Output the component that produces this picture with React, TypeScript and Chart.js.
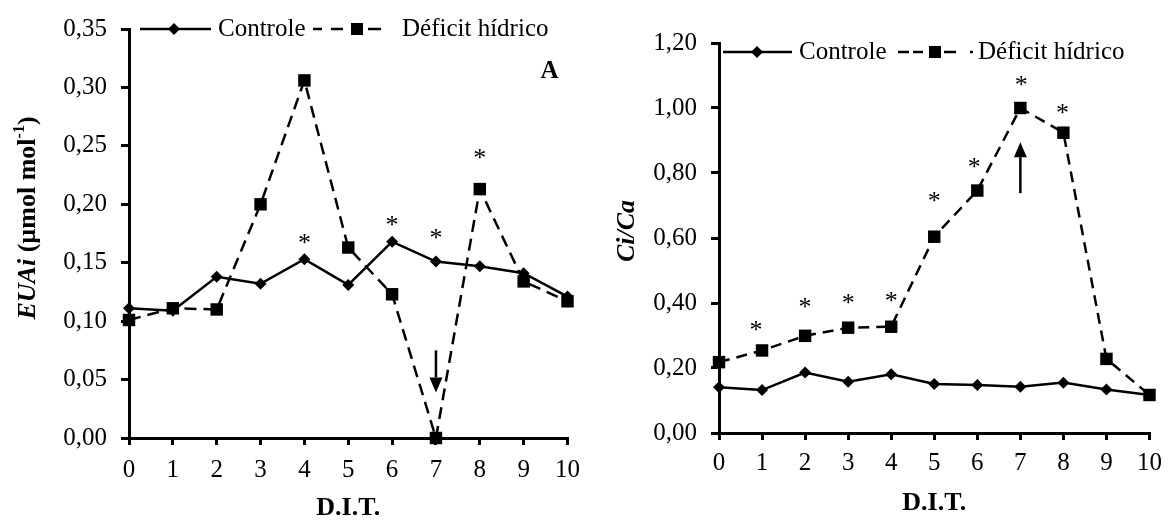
import React, { useEffect, useRef } from 'react';
import { Chart, registerables } from 'chart.js';

Chart.register(...registerables);

const FAM = "'Liberation Serif', 'Times New Roman', serif";

// Days after treatment (D.I.T.)
const days = [0, 1, 2, 3, 4, 5, 6, 7, 8, 9, 10];

// Panel A: EUAi (µmol mol-1)
const euaiControle = [0.111, 0.109, 0.138, 0.132, 0.153, 0.131, 0.168, 0.151, 0.147, 0.141, 0.121];
const euaiDeficit = [0.101, 0.111, 0.110, 0.200, 0.306, 0.163, 0.123, 0.0, 0.213, 0.134, 0.117];
const euaiTicks = [0, 0.05, 0.1, 0.15, 0.2, 0.25, 0.3, 0.35];
const euaiStarsX = [4, 6, 7, 8];
const euaiStarsY = [0.17, 0.186, 0.175, 0.243];
const euaiArrow = [7, 0.075, 0.039]; // x, tail, tip

// Panel B: Ci/Ca
const cicaControle = [0.141, 0.132, 0.186, 0.158, 0.181, 0.151, 0.148, 0.142, 0.155, 0.134, 0.117];
const cicaDeficit = [0.218, 0.254, 0.299, 0.324, 0.327, 0.604, 0.746, 1.0, 0.924, 0.228, 0.117];
const cicaTicks = [0, 0.2, 0.4, 0.6, 0.8, 1.0, 1.2];
const cicaStarsX = [0.86, 2, 3, 4, 5, 5.93, 7.02, 7.98];
const cicaStarsY = [0.329, 0.399, 0.411, 0.419, 0.727, 0.83, 1.082, 0.996];
const cicaArrow = [7, 0.738, 0.895];

const fmt = (v: number) => v.toFixed(2).replace('.', ',');

function drawDiamond(ctx: CanvasRenderingContext2D, x: number, y: number, r: number) {
  ctx.beginPath();
  ctx.moveTo(x - r, y);
  ctx.lineTo(x, y - r);
  ctx.lineTo(x + r, y);
  ctx.lineTo(x, y + r);
  ctx.closePath();
  ctx.fill();
}

function drawStar(ctx: CanvasRenderingContext2D, x: number, y: number) {
  ctx.font = `26px ${FAM}`;
  ctx.textAlign = 'center';
  ctx.textBaseline = 'alphabetic';
  const m = ctx.measureText('*');
  ctx.fillText('*', x, y + (m.actualBoundingBoxAscent - m.actualBoundingBoxDescent) / 2);
}

function drawArrow(ctx: CanvasRenderingContext2D, x: number, y0: number, y1: number) {
  const dir = Math.sign(y1 - y0);
  const headLen = 15;
  const headW = 6.5;
  ctx.lineWidth = 2.5;
  ctx.setLineDash([]);
  ctx.beginPath();
  ctx.moveTo(x, y0);
  ctx.lineTo(x, y1 - dir * headLen);
  ctx.stroke();
  ctx.beginPath();
  ctx.moveTo(x, y1);
  ctx.lineTo(x - headW, y1 - dir * headLen);
  ctx.lineTo(x + headW, y1 - dir * headLen);
  ctx.closePath();
  ctx.fill();
}

type Piece = { t: string; f: string; sup?: boolean };

function drawRotatedTitle(ctx: CanvasRenderingContext2D, cx: number, cy: number, pieces: Piece[]) {
  ctx.save();
  ctx.translate(cx, cy);
  ctx.rotate(-Math.PI / 2);
  ctx.textBaseline = 'middle';
  ctx.textAlign = 'left';
  let total = 0;
  const widths = pieces.map((p) => {
    ctx.font = p.f;
    const w = ctx.measureText(p.t).width;
    total += w;
    return w;
  });
  let x = -total / 2;
  pieces.forEach((p, i) => {
    ctx.font = p.f;
    ctx.fillText(p.t, x, p.sup ? -8 : 0);
    x += widths[i];
  });
  ctx.restore();
}

type LegendSpec = {
  dy: number;
  line: [number, number];
  diamond: number;
  text1: number;
  dashes: [number, number][];
  square: number;
  text2: number;
};

function drawLegend(ctx: CanvasRenderingContext2D, left: number, top: number, s: LegendSpec) {
  const y = top + s.dy;
  ctx.save();
  ctx.strokeStyle = '#000';
  ctx.fillStyle = '#000';
  ctx.lineWidth = 2.5;
  ctx.setLineDash([]);
  ctx.beginPath();
  ctx.moveTo(left + s.line[0], y);
  ctx.lineTo(left + s.line[1], y);
  ctx.stroke();
  drawDiamond(ctx, left + s.diamond, y, 6);
  ctx.font = `25px ${FAM}`;
  ctx.textAlign = 'left';
  ctx.textBaseline = 'middle';
  ctx.fillText('Controle', left + s.text1, y);
  s.dashes.forEach(([a, b]) => {
    ctx.beginPath();
    ctx.moveTo(left + a, y);
    ctx.lineTo(left + b, y);
    ctx.stroke();
  });
  ctx.fillRect(left + s.square - 6, y - 6, 12, 12);
  ctx.fillText('Déficit hídrico', left + s.text2, y);
  ctx.restore();
}

type PanelSpec = {
  controle: number[];
  deficit: number[];
  ticks: number[];
  ymax: number;
  starsX: number[];
  starsY: number[];
  arrow: number[];
  padTop: number;
  padRight: number;
  xHeight: number;
  xPad: number;
  dash: number[];
  legend: LegendSpec;
  titleX: number;
  titleY: number;
  titlePieces: Piece[];
  xTitleY: number;
  letter?: string;
};

function makeConfig(p: PanelSpec): any {
  const annot = {
    id: 'annot',
    afterDraw(chart: any) {
      const ctx: CanvasRenderingContext2D = chart.ctx;
      const xs = chart.scales.x;
      const ys = chart.scales.y;
      const ca = chart.chartArea;
      ctx.save();
      ctx.fillStyle = '#000';
      ctx.strokeStyle = '#000';
      p.starsX.forEach((sx, i) => drawStar(ctx, xs.getPixelForValue(sx), ys.getPixelForValue(p.starsY[i])));
      drawArrow(ctx, xs.getPixelForValue(p.arrow[0]), ys.getPixelForValue(p.arrow[1]), ys.getPixelForValue(p.arrow[2]));
      drawLegend(ctx, ca.left, ca.top, p.legend);
      if (p.letter) {
        ctx.font = `bold 25px ${FAM}`;
        ctx.textAlign = 'center';
        ctx.textBaseline = 'middle';
        ctx.fillText(p.letter, ca.right - 18, ca.top + 43);
      }
      ctx.font = `bold 26px ${FAM}`;
      ctx.textAlign = 'center';
      ctx.textBaseline = 'middle';
      ctx.fillText('D.I.T.', (ca.left + ca.right) / 2, p.xTitleY);
      drawRotatedTitle(ctx, p.titleX, p.titleY, p.titlePieces);
      ctx.restore();
    },
  };
  const common = {
    borderColor: '#000',
    backgroundColor: '#000',
    pointBackgroundColor: '#000',
    pointBorderColor: '#000',
    pointBorderWidth: 0,
    borderWidth: 2.5,
    tension: 0,
    clip: false,
    fill: false,
  };
  return {
    type: 'line',
    data: {
      datasets: [
        {
          ...common,
          label: 'Déficit hídrico',
          data: days.map((d, i) => ({ x: d, y: p.deficit[i] })),
          borderDash: p.dash,
          pointStyle: 'rect',
          pointRadius: 8.8,
        },
        {
          ...common,
          label: 'Controle',
          data: days.map((d, i) => ({ x: d, y: p.controle[i] })),
          pointStyle: 'rectRot',
          pointRadius: 6,
        },
      ],
    },
    options: {
      animation: false,
      responsive: false,
      maintainAspectRatio: false,
      layout: { padding: { top: p.padTop, right: p.padRight, left: 0, bottom: 0 } },
      plugins: { legend: { display: false }, tooltip: { enabled: false }, title: { display: false } },
      scales: {
        x: {
          type: 'linear',
          min: 0,
          max: 10,
          afterBuildTicks: (s: any) => {
            s.ticks = days.map((v) => ({ value: v }));
          },
          afterFit: (s: any) => {
            s.height = p.xHeight;
          },
          border: { color: '#000', width: 3 },
          grid: { drawOnChartArea: false, color: '#000', lineWidth: 3, tickLength: 7 },
          ticks: {
            color: '#000',
            font: { family: FAM, size: 25 },
            padding: p.xPad,
            maxRotation: 0,
            autoSkip: false,
            callback: (v: any) => String(v),
          },
        },
        y: {
          type: 'linear',
          min: 0,
          max: p.ymax,
          afterBuildTicks: (s: any) => {
            s.ticks = p.ticks.map((v) => ({ value: v }));
          },
          afterFit: (s: any) => {
            s.width = 129;
          },
          border: { color: '#000', width: 3 },
          grid: { drawOnChartArea: false, color: '#000', lineWidth: 3, tickLength: 8 },
          ticks: {
            color: '#000',
            font: { family: FAM, size: 25 },
            padding: 14,
            autoSkip: false,
            callback: (v: any) => fmt(Number(v)),
          },
        },
      },
    },
    plugins: [annot],
  };
}

const panelA: PanelSpec = {
  controle: euaiControle,
  deficit: euaiDeficit,
  ticks: euaiTicks,
  ymax: 0.35,
  starsX: euaiStarsX,
  starsY: euaiStarsY,
  arrow: euaiArrow,
  padTop: 27,
  padRight: 16,
  xHeight: 83,
  xPad: 10,
  dash: [12, 7],
  legend: {
    dy: 0,
    line: [11, 82],
    diamond: 45,
    text1: 89,
    dashes: [[184, 193], [202, 214], [239, 252]],
    square: 228,
    text2: 273,
  },
  titleX: 28,
  titleY: 218,
  titlePieces: [
    { t: 'EUAi', f: `italic bold 26px ${FAM}` },
    { t: ' (µmol mol', f: `bold 26px ${FAM}` },
    { t: '-1', f: `bold 16px ${FAM}`, sup: true },
    { t: ')', f: `bold 26px ${FAM}` },
  ],
  xTitleY: 508,
  letter: 'A',
};

const panelB: PanelSpec = {
  controle: cicaControle,
  deficit: cicaDeficit,
  ticks: cicaTicks,
  ymax: 1.2,
  starsX: cicaStarsX,
  starsY: cicaStarsY,
  arrow: cicaArrow,
  padTop: 43,
  padRight: 20,
  xHeight: 88,
  xPad: 8,
  dash: [11, 7],
  legend: {
    dy: 9,
    line: [4, 73],
    diamond: 38,
    text1: 80,
    dashes: [[179, 190], [194, 204], [225, 237], [251, 254]],
    square: 216,
    text2: 259,
  },
  titleX: 37,
  titleY: 231,
  titlePieces: [{ t: 'Ci/Ca', f: `italic bold 26px ${FAM}` }],
  xTitleY: 503,
};

function Panel({ spec, width, left }: { spec: PanelSpec; width: number; left: number }) {
  const ref = useRef<HTMLCanvasElement | null>(null);
  useEffect(() => {
    if (!ref.current) return;
    const chart = new Chart(ref.current, makeConfig(spec));
    return () => chart.destroy();
  }, [spec]);
  return (
    <canvas
      ref={ref}
      width={width}
      height={521}
      style={{ position: 'absolute', left, top: 0, width, height: 521, display: 'block' }}
    />
  );
}

export default function App() {
  return (
    <div style={{ position: 'absolute', left: 0, top: 0, width: 1170, height: 521, background: '#fff', overflow: 'hidden' }}>
      <Panel spec={panelA} width={590} left={0} />
      <Panel spec={panelB} width={580} left={590} />
    </div>
  );
}
